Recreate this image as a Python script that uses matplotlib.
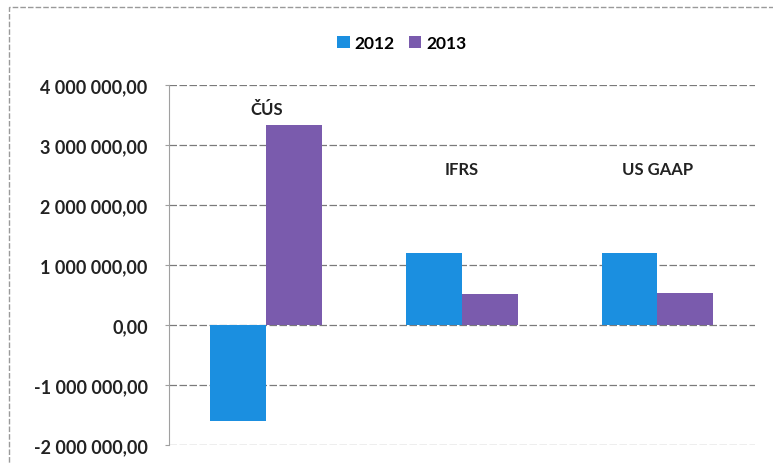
import numpy as np
import matplotlib.pyplot as plt
from matplotlib.patches import Rectangle
from matplotlib.ticker import FuncFormatter

categories = ["ČÚS", "IFRS", "US GAAP"]
series_names = ["2012", "2013"]
values_2012 = [-1600000, 1200000, 1200000]
values_2013 = [3330000, 520000, 530000]
label_heights = [3600000, 2600000, 2600000]

col_2012 = "#1b8fe0"
col_2013 = "#7a5bad"


def fmtCzk(v, pos):
    s = "{:,.2f}".format(v)
    return s.replace(",", " ").replace(".", ",")


def main():
    plt.rcParams['font.family'] = ['Lato', 'DejaVu Sans']
    fig = plt.figure(figsize=(7.73, 4.64), dpi=100)
    ax = fig.add_axes([0.218, 0.039, 0.759, 0.776])

    # chart frame
    fig.patches.append(Rectangle((0.011, -0.01), 1.0, 0.993, transform=fig.transFigure,
                                 fill=False, edgecolor="#9a9a9a", linewidth=1.0,
                                 linestyle=(0, (4, 1.5))))

    x = np.arange(len(categories))
    w = 0.286
    ax.bar(x - w / 2, values_2012, w, color=col_2012, label=series_names[0], zorder=3)
    ax.bar(x + w / 2, values_2013, w, color=col_2013, label=series_names[1], zorder=3)

    for i, name in enumerate(categories):
        ax.text(x[i], label_heights[i], name, ha="center", va="center",
                fontsize=12, fontweight="bold", color="#222222")

    ax.set_xlim(-0.5, 2.5)
    ax.set_ylim(-2000000, 4000000)
    ax.set_yticks(np.arange(-2000000, 4000001, 1000000))
    ax.yaxis.set_major_formatter(FuncFormatter(fmtCzk))
    ax.set_xticks([])
    ax.grid(axis="y", color="#7a7a7a", linestyle=(0, (6, 2)), linewidth=0.9, zorder=0)
    for s in ["top", "right", "bottom"]:
        ax.spines[s].set_visible(False)
    ax.spines["left"].set_color("#a0a0a0")
    ax.tick_params(axis="y", length=3, color="#a0a0a0", labelsize=13, pad=12)
    for t in ax.get_yticklabels():
        t.set_fontweight("bold")
        t.set_color("#222222")

    fig.legend(loc="center", bbox_to_anchor=(0.52, 0.905), ncol=2, frameon=False,
               prop={"weight": "bold", "size": 12.5}, handlelength=0.7, handleheight=0.7,
               handletextpad=0.3, columnspacing=0.8)

    fig.savefig("out.png", dpi=100)


if __name__ == "__main__":
    main()
